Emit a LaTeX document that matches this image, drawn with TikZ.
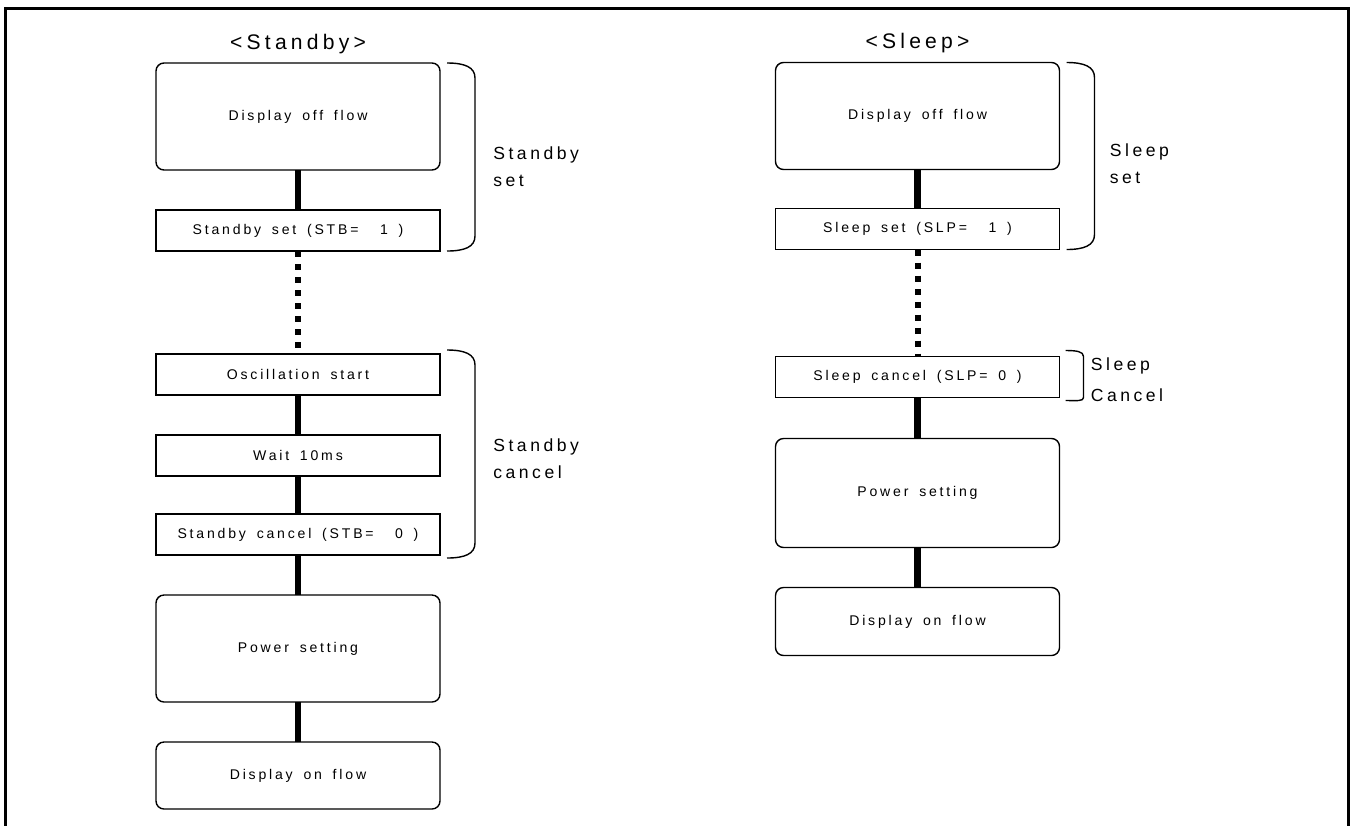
\documentclass[tikz,border=0pt]{standalone}
\usepackage{fontspec}
\setmainfont{Liberation Sans}[LetterSpace=20,WordSpace=1.6]
\usetikzlibrary{positioning}

\begin{document}
\begin{tikzpicture}[
    flow/.style={draw, line width=0.8pt, rounded corners=0.16cm, minimum width=5.68cm, minimum height=2.14cm, inner sep=0pt, outer sep=0pt, font=\fontsize{8}{10}\selectfont},
    task/.style={draw, line width=0.8pt, minimum width=5.68cm, minimum height=0.82cm, inner sep=0pt, outer sep=0pt, font=\fontsize{8}{10}\selectfont},
    heading/.style={inner sep=0pt, font=\fontsize{12}{14}\selectfont},
    side/.style={inner sep=0pt, align=left, font=\fontsize{10}{15.4}\selectfont},
    link/.style={line width=0.13cm},
    pause/.style={line width=0.12cm, dash pattern=on 0.12cm off 0.14cm},
    brace/.style={line width=0.8pt},
    frame/.style={line width=0.06cm},
    node distance=0.8cm,
  ]
    \useasboundingbox (0,0) rectangle (27.14,-16.5);
    \draw[frame] (0.12,-16.6) -- (0.12,-0.16) -- (26.96,-0.16) -- (26.96,-16.6);

    \node[flow] (offA) at (5.96,-2.33) {Display off flow};
    \node[heading, above=0.18cm of offA] (ttlA) {<Standby>};
    \node[task, below=of offA] (setA) {Standby set (STB=~~1~)};
    \node[task, below=2.06cm of setA] (oscA) {Oscillation start};
    \node[task, below=of oscA] (waitA) {Wait 10ms};
    \node[task, below=0.76cm of waitA] (cancelA) {Standby cancel (STB=~~0~)};
    \node[flow, below=of cancelA] (powerA) {Power setting};
    \node[flow, below=of powerA, minimum height=1.34cm] (onA) {Display on flow};

    \node[flow] (offB) at (18.35,-2.32) {Display off flow};
    \node[heading, above=0.18cm of offB] (ttlB) {<Sleep>};
    \node[task, below=0.78cm of offB] (setB) {Sleep set (SLP=~~1~)};
    \node[task, below=2.14cm of setB] (cancelB) {Sleep cancel (SLP=~0~)};
    \node[flow, below=0.82cm of cancelB, minimum height=2.18cm] (powerB) {Power setting};
    \node[flow, below=of powerB, minimum height=1.36cm] (onB) {Display on flow};

    \draw[link] (offA) -- (setA);
    \draw[pause] (setA) -- (oscA);
    \draw[link] (oscA) -- (waitA);
    \draw[link] (waitA) -- (cancelA);
    \draw[link] (cancelA) -- (powerA);
    \draw[link] (powerA) -- (onA);

    \draw[link] (offB) -- (setB);
    \draw[pause] (setB) -- (cancelB);
    \draw[link] (cancelB) -- (powerB);
    \draw[link] (powerB) -- (onB);

    \draw[brace] ([xshift=0.14cm]offA.north east) .. controls +(0.35,0) and +(0,0.22) .. ([xshift=0.7cm,yshift=-0.3cm]offA.north east) coordinate (topSetA)
      -- ([xshift=0.7cm,yshift=0.3cm]setA.south east) coordinate (botSetA)
      .. controls +(0,-0.22) and +(0.35,0) .. ([xshift=0.14cm]setA.south east);
    \draw[brace] ([xshift=0.14cm,yshift=0.08cm]oscA.north east) .. controls +(0.35,0) and +(0,0.22) .. ([xshift=0.7cm,yshift=-0.22cm]oscA.north east) coordinate (topCnlA)
      -- ([xshift=0.7cm,yshift=0.24cm]cancelA.south east) coordinate (botCnlA)
      .. controls +(0,-0.22) and +(0.35,0) .. ([xshift=0.14cm,yshift=-0.06cm]cancelA.south east);
    \draw[brace] ([xshift=0.14cm]offB.north east) .. controls +(0.35,0) and +(0,0.22) .. ([xshift=0.7cm,yshift=-0.3cm]offB.north east) coordinate (topSetB)
      -- ([xshift=0.7cm,yshift=0.3cm]setB.south east) coordinate (botSetB)
      .. controls +(0,-0.22) and +(0.35,0) .. ([xshift=0.14cm]setB.south east);
    \draw[brace] ([xshift=0.12cm,yshift=0.12cm]cancelB.north east) .. controls +(0.22,0) and +(0,0.1) .. ([xshift=0.48cm]cancelB.north east) coordinate (topCnlB)
      -- ([xshift=0.48cm]cancelB.south east) coordinate (botCnlB)
      .. controls +(0,-0.08) and +(0.22,0) .. ([xshift=0.12cm,yshift=-0.06cm]cancelB.south east);

    \path (topSetA) -- (botSetA) coordinate[midway] (midSetA);
    \path (topCnlA) -- (botCnlA) coordinate[midway] (midCnlA);
    \path (topSetB) -- (botSetB) coordinate[midway] (midSetB);
    \path (topCnlB) -- (botCnlB) coordinate[midway] (midCnlB);

    \node[side, right=0.36cm of midSetA, yshift=-0.2cm] (lblSetA) {Standby\\set};
    \node[side, right=0.36cm of midCnlA, yshift=-0.1cm] (lblCnlA) {Standby\\cancel};
    \node[side, right=0.3cm of midSetB, yshift=-0.15cm] (lblSetB) {Sleep\\set};
    \node[side, right=0.14cm of midCnlB, yshift=-0.06cm, font=\fontsize{10}{17.6}\selectfont] (lblCnlB) {Sleep\\Cancel};
\end{tikzpicture}
\end{document}
